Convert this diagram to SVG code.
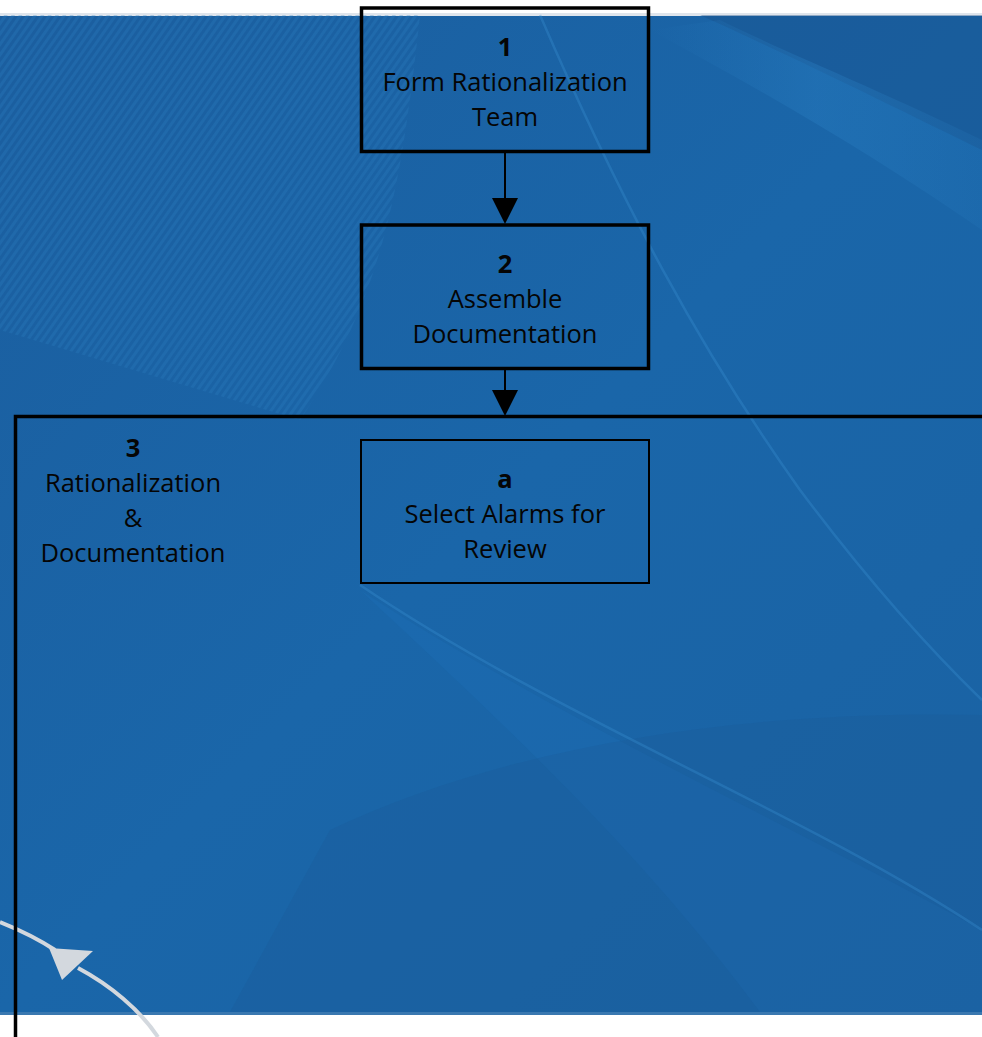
<svg xmlns="http://www.w3.org/2000/svg" width="982" height="1037" viewBox="0 0 982 1037">
<defs>
<style>
.t{font-family:"Open Sans","Liberation Sans",sans-serif;font-size:25.5px;fill:#050505;text-anchor:middle}
.b{font-weight:bold}
.box{fill:none;stroke:#000;stroke-width:3.5}
.thin{fill:none;stroke:#000;stroke-width:2}
.conn{stroke:#000;stroke-width:2;fill:none}
.streak{fill:none;stroke:#3a8fd0;stroke-opacity:0.35}
</style>
<linearGradient id="bg" x1="0" y1="0" x2="1" y2="1">
<stop offset="0" stop-color="#1b5e9f"/>
<stop offset="0.5" stop-color="#1a66a9"/>
<stop offset="1" stop-color="#1a62a3"/>
</linearGradient>
<linearGradient id="band" x1="0" y1="0" x2="1" y2="0">
<stop offset="0" stop-color="#2a80c4" stop-opacity="0"/>
<stop offset="0.5" stop-color="#2a80c4" stop-opacity="0.35"/>
<stop offset="1" stop-color="#2a80c4" stop-opacity="0.15"/>
</linearGradient>
<pattern id="mesh" width="6" height="6" patternUnits="userSpaceOnUse" patternTransform="rotate(35)">
<rect width="3" height="6" fill="#2a7fc2" fill-opacity="0.3"/>
</pattern>
</defs>
<rect width="982" height="1037" fill="#ffffff"/>
<g id="background">
<rect x="0" y="15" width="982" height="999" fill="url(#bg)"/>
<rect x="0" y="13" width="982" height="3" fill="#dfe5ec"/>
<rect x="0" y="1012" width="982" height="3" fill="#3a78b0"/>
<path d="M0 15 L420 15 C400 200 380 300 300 420 L0 330 Z" fill="url(#mesh)"/>
<path d="M700 15 L982 15 L982 150 C900 110 800 60 700 15 Z" fill="#1a4f8a" fill-opacity="0.4"/>
<path d="M650 30 C780 100 880 160 982 230 L982 140 C880 90 780 50 720 20 Z" fill="url(#band)"/>
<path d="M360 590 C560 720 780 820 982 930 L982 1012 L760 1012 C640 850 500 720 360 590 Z" fill="#1d72b8" fill-opacity="0.3"/>
<path d="M330 830 C520 740 760 710 982 715 L982 1012 L230 1012 Z" fill="#1a5995" fill-opacity="0.25"/>
<path class="streak" stroke-width="2.5" d="M540 15 C620 200 700 350 800 490 C860 570 920 640 982 700"/>
<path class="streak" stroke-width="2.5" d="M360 585 C560 720 800 810 982 930"/>
</g>
<g id="gray-arrow">
<path d="M0 922 C25 932 40 940 55 950" fill="none" stroke="#d3d8de" stroke-width="4"/>
<path d="M78 968 C110 985 140 1010 158 1037" fill="none" stroke="#d3d8de" stroke-width="4"/>
<polygon points="49,948 93,951 62,980" fill="#d3d8de"/>
</g>
<g id="connectors">
<line class="conn" x1="505" y1="153" x2="505" y2="200"/>
<polygon points="492,198 518,198 505,224"/>
<line class="conn" x1="505" y1="370" x2="505" y2="392"/>
<polygon points="492,390 518,390 505,416"/>
</g>
<g id="node-3">
<path class="box" d="M15.5 1037 L15.5 416.5 L984 416.5"/>
<text class="t b" x="133" y="457">3</text>
<text class="t" x="133" y="492">Rationalization</text>
<text class="t" x="133" y="527">&amp;</text>
<text class="t" x="133" y="562">Documentation</text>
</g>
<g id="node-1">
<rect class="box" x="361.5" y="8" width="287" height="143.5"/>
<text class="t b" x="505" y="56">1</text>
<text class="t" x="505" y="91">Form Rationalization</text>
<text class="t" x="505" y="126">Team</text>
</g>
<g id="node-2">
<rect class="box" x="361.5" y="225" width="287" height="143.5"/>
<text class="t b" x="505" y="273">2</text>
<text class="t" x="505" y="308">Assemble</text>
<text class="t" x="505" y="343">Documentation</text>
</g>
<g id="node-a">
<rect class="thin" x="361" y="440" width="288" height="143"/>
<text class="t b" x="505" y="488">a</text>
<text class="t" x="505" y="523">Select Alarms for</text>
<text class="t" x="505" y="558">Review</text>
</g>
</svg>
